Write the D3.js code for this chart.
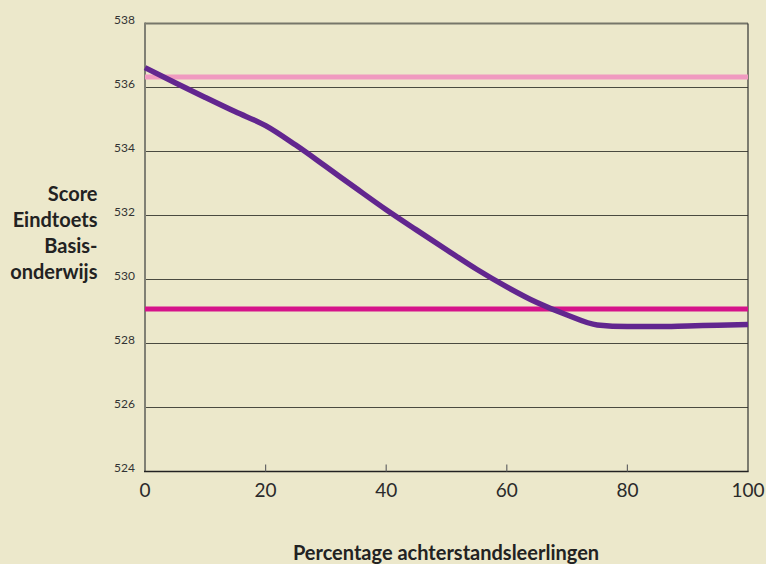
<!DOCTYPE html>
<html><head><meta charset="utf-8">
<script src="https://cdn.jsdelivr.net/npm/d3@7"></script>
<style>
html,body{margin:0;padding:0;background:#ece8cb;}
svg{display:block;}
</style></head>
<body>
<script>
// Data
const xPct = [0,5,10,15,20,25,30,35,40,45,50,55,60,65,70,75,80,85,90,95,100];
const scoreCurve = [536.62,536.15,535.69,535.24,534.81,534.20,533.53,532.85,532.18,531.55,530.93,530.32,529.77,529.28,528.89,528.58,528.53,528.53,528.55,528.57,528.59];
const pinkLevel = [536.33];
const magentaLevel = [529.08];
const yTicks = [524,526,528,530,532,534,536,538];
const xTicks = [0,20,40,60,80,100];
const yTitleLines = ["Score","Eindtoets","Basis-","onderwijs"];
const xTitle = "Percentage achterstandsleerlingen";

(function(){
const W = 766, H = 564;
const mLeft = 145, mRight = 748, mTop = 23.5, mBottom = 471.5;
const svg = d3.select("body").append("svg").attr("width", W).attr("height", H);
svg.append("rect").attr("width", W).attr("height", H).attr("fill", "#ece8cb");

const x = d3.scaleLinear().domain([0,100]).range([mLeft,mRight]);
const y = d3.scaleLinear().domain([524,538]).range([mBottom,mTop]);

const font = "Lato, 'Open Sans', sans-serif";

// gridlines
svg.append("g").selectAll("line").data(yTicks.filter(d => d !== 524 && d !== 538)).join("line")
  .attr("x1", mLeft).attr("x2", mRight)
  .attr("y1", d => y(d)).attr("y2", d => y(d))
  .attr("stroke", "#4a4a40").attr("stroke-width", 1.2);

// frame
svg.append("line").attr("x1", mLeft).attr("x2", mRight).attr("y1", y(538)).attr("y2", y(538))
  .attr("stroke", "#76766a").attr("stroke-width", 2);
svg.append("line").attr("x1", mRight).attr("x2", mRight).attr("y1", y(538)).attr("y2", y(524))
  .attr("stroke", "#333").attr("stroke-width", 1.2);
svg.append("line").attr("x1", mLeft).attr("x2", mLeft).attr("y1", y(538)-1).attr("y2", y(524))
  .attr("stroke", "#808074").attr("stroke-width", 2);
svg.append("line").attr("x1", mLeft-1).attr("x2", mRight+0.6).attr("y1", y(524)).attr("y2", y(524))
  .attr("stroke", "#222").attr("stroke-width", 1.4);

// x ticks (inward)
svg.append("g").selectAll("line").data(xTicks.filter(d => d > 0 && d < 100)).join("line")
  .attr("x1", d => x(d)).attr("x2", d => x(d))
  .attr("y1", y(524)).attr("y2", y(524) - 7)
  .attr("stroke", "#666").attr("stroke-width", 1.2);

// y tick labels
svg.append("g").selectAll("text").data(yTicks).join("text")
  .attr("x", 135).attr("y", d => y(d))
  .attr("text-anchor", "end")
  .attr("font-family", font).attr("font-size", 12).attr("fill", "#333")
  .text(d => d);

// x tick labels
svg.append("g").selectAll("text").data(xTicks).join("text")
  .attr("x", d => x(d)).attr("y", 497)
  .attr("text-anchor", "middle")
  .attr("font-family", font).attr("font-size", 19).attr("fill", "#2a2a2a")
  .text(d => d);

// horizontal reference lines
svg.append("line").attr("x1", x(0)).attr("x2", x(100))
  .attr("y1", y(pinkLevel[0])).attr("y2", y(pinkLevel[0]))
  .attr("stroke", "#f09ac0").attr("stroke-width", 5);
svg.append("line").attr("x1", x(0)).attr("x2", x(100))
  .attr("y1", y(magentaLevel[0])).attr("y2", y(magentaLevel[0]))
  .attr("stroke", "#d5138a").attr("stroke-width", 5);

// curve
const line = d3.line().x((d,i) => x(xPct[i])).y(d => y(d)).curve(d3.curveMonotoneX);
svg.append("path").datum(scoreCurve).attr("d", line)
  .attr("fill", "none").attr("stroke", "#62268f").attr("stroke-width", 5.5)
  .attr("stroke-linecap", "butt");

// y title
svg.append("text").attr("text-anchor", "end")
  .attr("font-family", font).attr("font-weight", "bold").attr("font-size", 20).attr("fill", "#222")
  .selectAll("tspan").data(yTitleLines).join("tspan")
  .attr("x", 97.5).attr("y", (d,i) => 200.8 + i*25.9).text(d => d);

// x title
svg.append("text").attr("x", 446).attr("y", 560)
  .attr("text-anchor", "middle")
  .attr("font-family", font).attr("font-weight", "bold").attr("font-size", 20).attr("fill", "#222")
  .text(xTitle);
})();
</script>
</body></html>
